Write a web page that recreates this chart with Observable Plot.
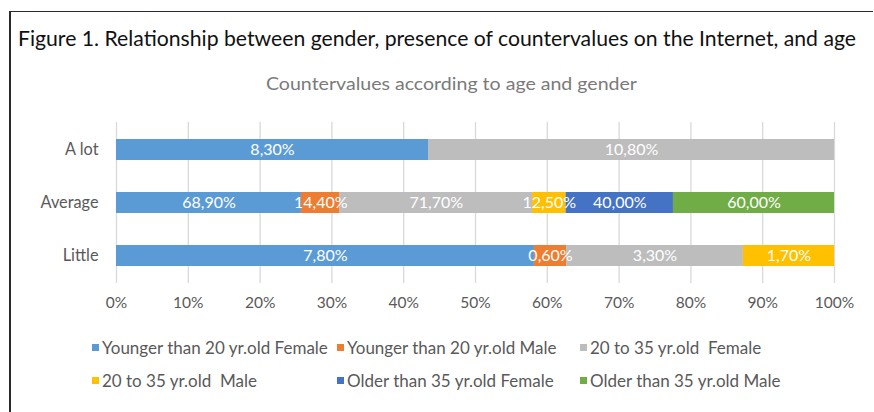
<!DOCTYPE html>
<html>
<head>
<meta charset="utf-8">
<script src="https://cdn.jsdelivr.net/npm/d3@7"></script>
<script src="https://cdn.jsdelivr.net/npm/@observablehq/plot@0.6"></script>
<style>
  html, body { margin: 0; padding: 0; background: #fff; }
  #wrap { position: relative; width: 874px; height: 412px; overflow: hidden; font-family: Lato, "Open Sans", sans-serif; }
  #frame { position: absolute; left: 9px; top: 11px; width: 862px; height: 410px; border-left: 2px solid #2a2a2a; border-top: 1.5px solid #2a2a2a; }
  .fit { position: absolute; white-space: pre; transform-origin: 0 0; }
  #title { font-size: 21px; color: #111; top: 25px; }
  #subtitle { font-size: 18px; color: #7a7a7a; top: 72px; }
  #chart { position: absolute; left: 0; top: 110px; }
  .leg { position: absolute; display: flex; align-items: center; font-size: 17px; color: #595959; white-space: pre; }
  .sw { width: 7px; height: 7px; margin-right: 3px; flex: none; }
</style>
</head>
<body>
<div id="wrap">
  <div id="frame"></div>
  <div id="title" class="fit">Figure 1. Relationship between gender, presence of countervalues on the Internet, and age</div>
  <div id="subtitle" class="fit">Countervalues according to age and gender</div>
  <div id="chart"></div>
  <div id="legend"></div>
</div>
<script>
// ---- data ----
const categories = ["A lot", "Average", "Little"];
const series = [
  "Younger than 20 yr.old Female",
  "Younger than 20 yr.old Male",
  "20 to 35 yr.old  Female",
  "20 to 35 yr.old  Male",
  "Older than 35 yr.old Female",
  "Older than 35 yr.old Male"
];
// values per series, in category order (A lot, Average, Little); null = absent
const youngerFemale = [8.3, 68.9, 7.8];
const youngerMale   = [null, 14.4, 0.6];
const midFemale     = [10.8, 71.7, 3.3];
const midMale       = [null, 12.5, 1.7];
const olderFemale   = [null, 40.0, null];
const olderMale     = [null, 60.0, null];
const seriesValues = [youngerFemale, youngerMale, midFemale, midMale, olderFemale, olderMale];
const colors = ["#5B9BD5", "#ED7D31", "#BDBDBD", "#FFC000", "#4472C4", "#70AD47"];
const xTicks = [0, 0.1, 0.2, 0.3, 0.4, 0.5, 0.6, 0.7, 0.8, 0.9, 1];
const xTickLabels = ["0%", "10%", "20%", "30%", "40%", "50%", "60%", "70%", "80%", "90%", "100%"];

const data = [];
series.forEach((s, i) => categories.forEach((c, j) => {
  const v = seriesValues[i][j];
  if (v != null) data.push({category: c, series: s, value: v});
}));
const fmt = v => d3.format(".2f")(v).replace(".", ",") + "%";

const plot = Plot.plot({
  width: 874,
  height: 210,
  marginLeft: 116,
  marginRight: 40,
  marginTop: 12,
  marginBottom: 37,
  style: {fontFamily: "Lato, 'Open Sans', sans-serif", fontSize: "15.5px", color: "#595959", background: "transparent", overflow: "visible"},
  x: {domain: [0, 1], ticks: xTicks, tickFormat: (d, i) => xTickLabels[i], label: null, tickSize: 0, tickPadding: 13},
  y: {domain: categories, paddingInner: 0.61, paddingOuter: 0.3, label: null, tickSize: 0, tickPadding: 18},
  color: {domain: series, range: colors},
  marks: [
    Plot.gridX(xTicks, {stroke: "#d9d9d9", strokeOpacity: 1, strokeWidth: 1.3}),
    Plot.barX(data, Plot.stackX({offset: "normalize", x: "value", y: "category", fill: "series"})),
    Plot.text(data, Plot.stackX({offset: "normalize", x: "value", y: "category", z: "series", text: d => fmt(d.value), fill: "white", fontSize: 16})),
    Plot.axisY({tickSize: 0, tickPadding: 18, fontSize: 16.3, label: null})
  ]
});
document.getElementById("chart").appendChild(plot);

// ---- legend ----
const legCols = [92, 337, 580];
const legRows = [347, 380];
const legend = document.getElementById("legend");
series.forEach((s, i) => {
  const d = document.createElement("div");
  d.className = "leg";
  d.style.left = legCols[i % 3] + "px";
  d.style.top = (legRows[Math.floor(i / 3)] - 10) + "px";
  d.style.height = "20px";
  const sw = document.createElement("span");
  sw.className = "sw";
  sw.style.background = colors[i];
  const t = document.createElement("span");
  t.textContent = s;
  d.appendChild(sw); d.appendChild(t);
  legend.appendChild(d);
});

// ---- fit titles to reference widths ----
function fit(id, left, width) {
  const el = document.getElementById(id);
  const w = el.getBoundingClientRect().width;
  el.style.left = left + "px";
  el.style.transform = `scaleX(${width / w})`;
}
fit("title", 18, 838);
fit("subtitle", 266, 371);
</script>
</body>
</html>
